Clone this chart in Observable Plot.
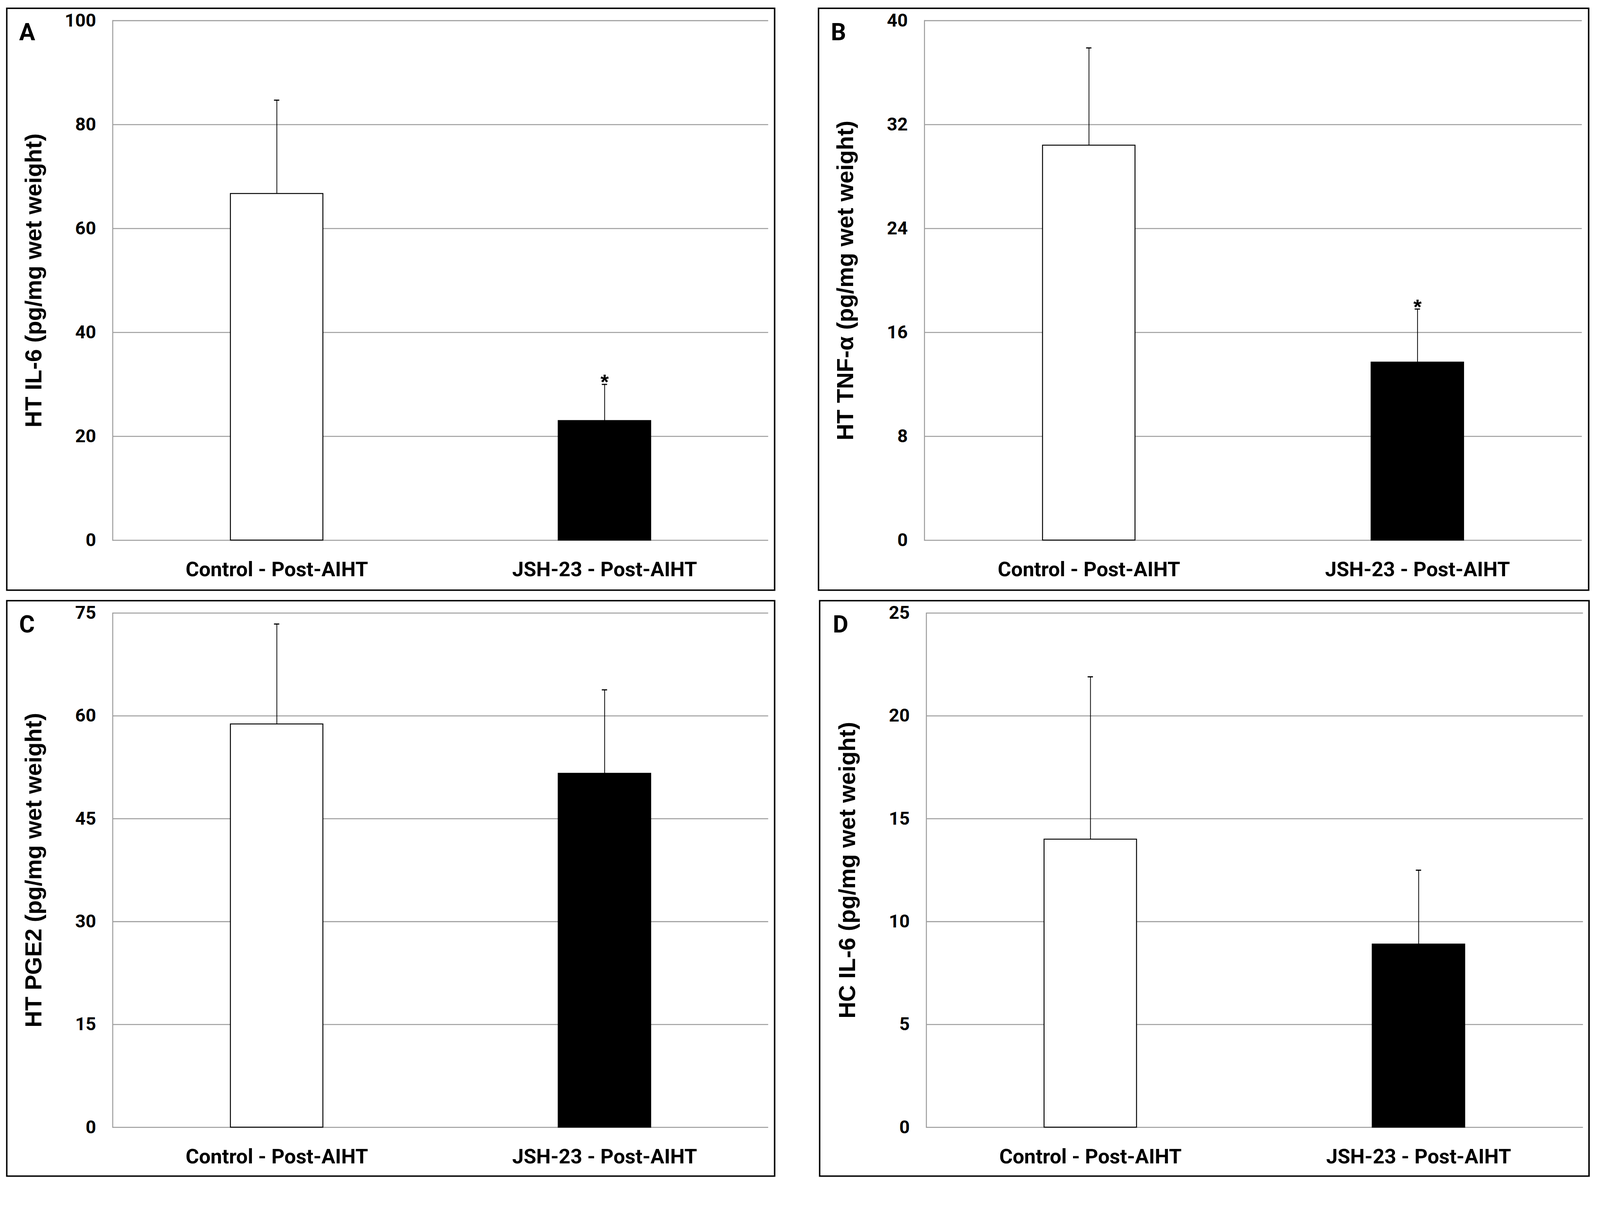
<!DOCTYPE html>
<html>
<head>
<meta charset="utf-8">
<script src="https://cdn.jsdelivr.net/npm/d3@7"></script>
<script src="https://cdn.jsdelivr.net/npm/@observablehq/plot@0.6"></script>
<style>
  html, body { margin: 0; padding: 0; background: #fff; overflow: hidden; }
  #page { position: relative; width: 4222px; height: 3128px; background: #fff; overflow: hidden; transform-origin: 0 0; }
  .panel { position: absolute; box-sizing: border-box; border: 4px solid #000; background: #fff; }
  .panel svg { display: block; }
</style>
</head>
<body>
<div id="page"></div>
<script>
// ---------- data ----------
const groups = ["Control - Post-AIHT", "JSH-23 - Post-AIHT"];
const panelLetters = ["A", "B", "C", "D"];
const yLabels = [
  "HT IL-6 (pg/mg wet weight)",
  "HT TNF-\u03B1 (pg/mg wet weight)",
  "HT PGE2 (pg/mg wet weight)",
  "HC IL-6 (pg/mg wet weight)"
];
const meanA = [66.7, 23.0];
const errA  = [18.0, 7.0];
const meanB = [30.4, 13.7];
const errB  = [7.5, 4.1];
const meanC = [58.8, 51.6];
const errC  = [14.6, 12.2];
const meanD = [14.0, 8.9];
const errD  = [7.9, 3.6];
const ticksA = [0, 20, 40, 60, 80, 100];
const ticksB = [0, 8, 16, 24, 32, 40];
const ticksC = [0, 15, 30, 45, 60, 75];
const ticksD = [0, 5, 10, 15, 20, 25];
const sigA = [false, true];
const sigB = [false, true];
const sigC = [false, false];
const sigD = [false, false];

// ---------- layout ----------
const panels = [
  {left: 16,   top: 20,   w: 2030, h: 1539, mL: 277, mR: 15, mT: 30, mB: 130, mean: meanA, err: errA, ticks: ticksA, sig: sigA},
  {left: 2158, top: 20,   w: 2036, h: 1539, mL: 277, mR: 16, mT: 30, mB: 130, mean: meanB, err: errB, ticks: ticksB, sig: sigB},
  {left: 16,   top: 1583, w: 2030, h: 1522, mL: 277, mR: 15, mT: 30, mB: 127, mean: meanC, err: errC, ticks: ticksC, sig: sigC},
  {left: 2161, top: 1583, w: 2034, h: 1522, mL: 279, mR: 14, mT: 30, mB: 127, mean: meanD, err: errD, ticks: ticksD, sig: sigD}
];

const narrow = "Roboto, 'Liberation Sans', sans-serif";
const arial = "'Liberation Sans', Arial, sans-serif";
const page = document.getElementById("page");

// fit the 4222x3128 page into the actual viewport
const vw = document.documentElement.clientWidth || window.innerWidth;
const vh = document.documentElement.clientHeight || window.innerHeight;
const s = Math.min(vw / 4222, vh / 3128);
if (s > 0 && Math.abs(s - 1) > 0.002) page.style.transform = `scale(${s})`;

panels.forEach((p, i) => {
  const rows = groups.map((g, j) => ({
    group: g, mean: p.mean[j], top: p.mean[j] + p.err[j], sig: p.sig[j], fill: j === 0 ? "white" : "black"
  }));
  const yMax = p.ticks[p.ticks.length - 1];
  const chart = Plot.plot({
    width: p.w - 8,
    height: p.h - 8,
    marginLeft: p.mL, marginRight: p.mR, marginTop: p.mT, marginBottom: p.mB,
    style: {fontFamily: narrow, fontWeight: "bold", color: "#000", background: "white", overflow: "visible"},
    x: {domain: groups, paddingInner: 0.718, paddingOuter: 0.359, label: null},
    y: {domain: [0, yMax], label: null},
    marks: [
      Plot.gridY(p.ticks, {stroke: "#9c9c9c", strokeOpacity: 1, strokeWidth: 2.6}),
      Plot.frame({anchor: "left", stroke: "#9c9c9c", strokeWidth: 2.6}),
      Plot.axisY(p.ticks, {tickSize: 0, tickPadding: 44, fontSize: 48, fontWeight: "bold", label: null, tickFormat: d => String(d)}),
      Plot.axisX({tickSize: 0, tickPadding: 57, fontSize: 54, fontWeight: "bold", label: null}),
      Plot.barY(rows, {x: "group", y: "mean", fill: "fill", stroke: "black", strokeWidth: 2.5}),
      Plot.ruleX(rows, {x: "group", y1: "mean", y2: "top", stroke: "black", strokeWidth: 2}),
      Plot.tickY(rows, {x: "group", y: "top", stroke: "black", strokeWidth: 3, insetLeft: 115, insetRight: 115}),
      Plot.text(rows.filter(d => d.sig), {x: "group", y: "top", text: () => "*", fontFamily: arial, fontWeight: "bold", fontSize: 56, lineAnchor: "middle", dy: -5}),
      Plot.text([yLabels[i]], {text: d => d, frameAnchor: "left", rotate: -90, dx: -208, fontFamily: arial, fontWeight: "bold", fontSize: 61, textAnchor: "middle", lineAnchor: "middle"}),
      Plot.text([panelLetters[i]], {text: d => d, frameAnchor: "top-left", dx: -247, dy: 31, fontFamily: narrow, fontWeight: "bold", fontSize: 63, textAnchor: "start", lineAnchor: "middle"})
    ]
  });
  const div = document.createElement("div");
  div.className = "panel";
  div.style.left = p.left + "px";
  div.style.top = p.top + "px";
  div.style.width = p.w + "px";
  div.style.height = p.h + "px";
  div.appendChild(chart);
  page.appendChild(div);
});
</script>
</body>
</html>
